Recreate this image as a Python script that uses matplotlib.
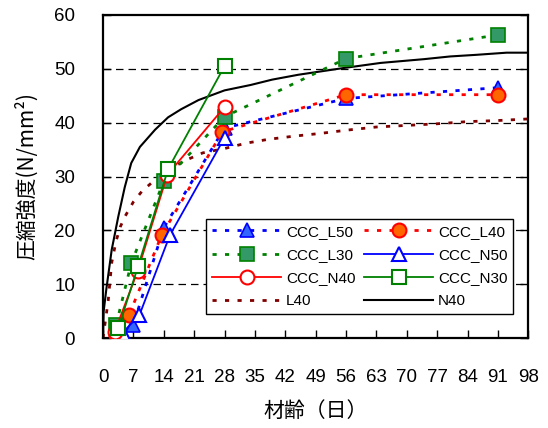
import matplotlib
matplotlib.use("Agg")
import matplotlib.pyplot as plt

plt.rcParams['font.family'] = ['Liberation Sans', 'Noto Sans CJK JP', 'DejaVu Sans']

# CCC test series (age in days, strength N/mm2)
l50_age = [3, 7, 14, 28, 56, 91]
l50_val = [0.0, 2.5, 20.5, 39.0, 44.5, 46.5]
l40_age = [3, 6, 13.5, 27.5, 56, 91]
l40_val = [0.5, 4.3, 19.1, 38.3, 45.2, 45.2]
l30_age = [3, 6.5, 14, 28, 56, 91]
l30_val = [2.4, 13.9, 29.1, 41.1, 51.9, 56.3]
n50_age = [4.5, 8.4, 15.4, 28]
n50_val = [1.0, 4.3, 19.1, 37.2]
n40_age = [2.7, 8, 14.8, 28]
n40_val = [1.2, 12.5, 30.3, 42.9]
n30_age = [3.5, 8.1, 15, 28]
n30_val = [1.8, 13.4, 31.4, 50.5]

# reference curves
base_l40_age = [0, 0.6, 1.2, 2, 3, 4, 5, 7, 9, 12, 15, 19, 23, 28, 33, 38, 44, 50, 56, 63, 70, 77, 84, 91, 98]
base_l40_val = [0, 3.5, 7, 14, 18, 20.7, 22.5, 25.3, 27.3, 29.4, 31.2, 33.0, 34.4, 35.2, 36.2, 36.9, 37.5, 38.0,
                38.6, 39.2, 39.5, 39.8, 40.2, 40.4, 40.7]
base_n40_age = [0, 0.15, 0.75, 2, 3.5, 5, 6.5, 8.5, 12, 15, 18, 22, 28, 34, 39, 45, 55, 64, 74, 80, 86, 93, 98]
base_n40_val = [0, 5, 9, 16.4, 22.5, 28, 32.5, 35.5, 38.7, 41, 42.5, 44.2, 46, 47, 48, 48.9, 50.1, 51.1,
                51.8, 52.3, 52.6, 53, 53]

x_ticks = [0, 7, 14, 21, 28, 35, 42, 49, 56, 63, 70, 77, 84, 91, 98]
y_ticks = [0, 10, 20, 30, 40, 50, 60]

fig = plt.figure(figsize=(5.48, 4.28), dpi=100)
ax = fig.add_axes([0.188, 0.21, 0.776, 0.755])

dot = (0, (1.5, 3))

ax.plot(base_l40_age, base_l40_val, color='#800000', lw=2, ls=dot, label='L40', zorder=2)
ax.plot(base_n40_age, base_n40_val, color='black', lw=1.5, label='N40', zorder=2)

ax.plot(l50_age, l50_val, color='#0000ff', lw=2, ls=dot, marker='^', ms=10,
        mfc='#3366ff', mec='#0000ff', mew=1.2, label='CCC_L50', zorder=3)
ax.plot(l40_age, l40_val, color='#ff0000', lw=2, ls=dot, marker='o', ms=10,
        mfc='#ff6600', mec='#ff0000', mew=1.5, label='CCC_L40', zorder=3)
ax.plot(l30_age, l30_val, color='#008000', lw=2, ls=dot, marker='s', ms=10,
        mfc='#339966', mec='#008000', mew=1.2, label='CCC_L30', zorder=3)
ax.plot(n50_age, n50_val, color='#0000ff', lw=1.3, marker='^', ms=10,
        mfc='white', mec='#0000ff', mew=1.5, label='CCC_N50', zorder=4)
ax.plot(n40_age, n40_val, color='#ff0000', lw=1.3, marker='o', ms=10,
        mfc='white', mec='#ff0000', mew=1.5, label='CCC_N40', zorder=4)
ax.plot(n30_age, n30_val, color='#008000', lw=1.3, marker='s', ms=10,
        mfc='white', mec='#008000', mew=1.5, label='CCC_N30', zorder=4)

ax.set_xlim(0, 98)
ax.set_ylim(0, 60)
ax.set_xticks(x_ticks)
ax.set_yticks(y_ticks)
ax.tick_params(axis='both', direction='in', labelsize=13.5, length=6, width=1)
ax.tick_params(axis='y', right=True, pad=20)
ax.tick_params(axis='x', pad=22)
for s in ax.spines.values():
    s.set_linewidth(1.6)
for y in y_ticks[1:-1]:
    ax.axhline(y, color='black', lw=0.9, ls=(0, (6, 4)), zorder=1)

ax.set_ylabel('圧縮強度(N/mm²)', fontsize=15, family=['Noto Sans CJK JP'], labelpad=12)
ax.set_xlabel('材齢（日）', fontsize=15, family=['Noto Sans CJK JP'], labelpad=10)

h, l = ax.get_legend_handles_labels()
d = dict(zip(l, h))
order = ['CCC_L50', 'CCC_L30', 'CCC_N40', 'L40', 'CCC_L40', 'CCC_N50', 'CCC_N30', 'N40']
leg = ax.legend([d[k] for k in order], order, ncol=2, loc='lower right',
                bbox_to_anchor=(0.983, 0.05), handlelength=4.5,
                prop={'size': 11},
                handletextpad=0.3, columnspacing=0.6, labelspacing=0.6,
                fancybox=False, framealpha=1, edgecolor='black', borderpad=0.4)
leg.get_frame().set_linewidth(1.0)
leg.set_zorder(10)

fig.savefig('out.png', dpi=100)
